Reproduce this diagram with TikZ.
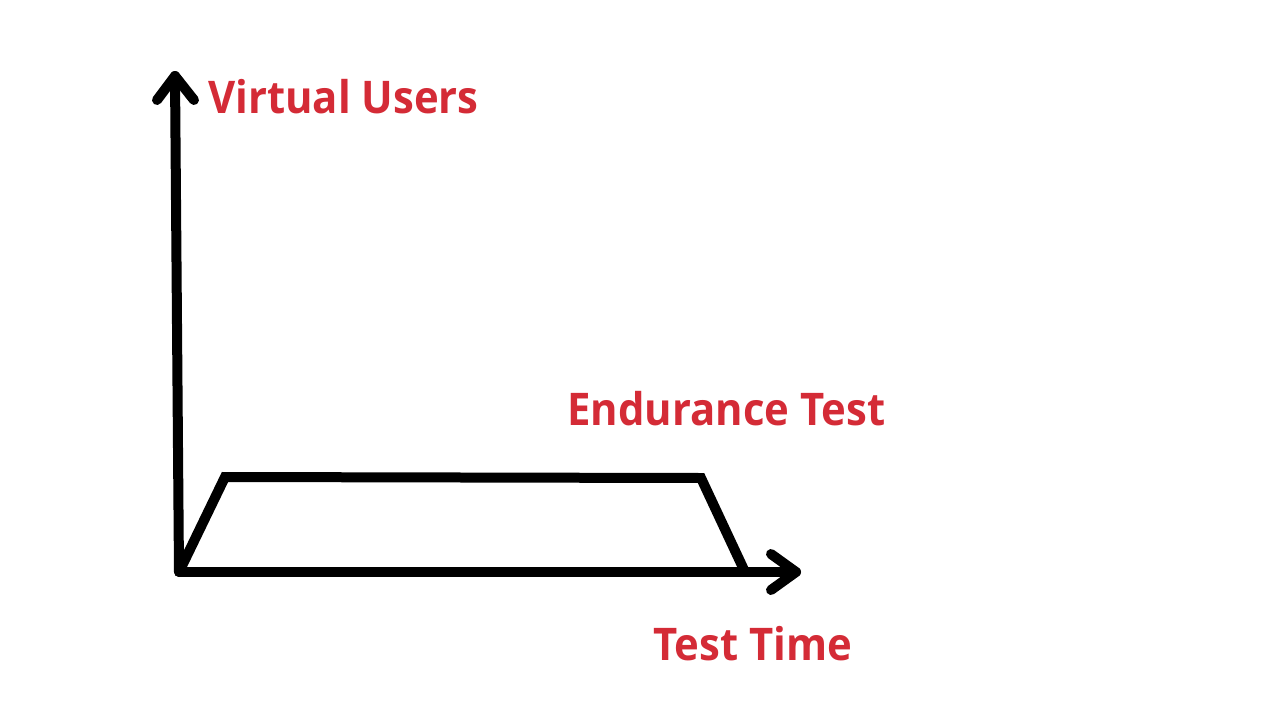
\documentclass[tikz,border=0pt]{standalone}
\usepackage{fontspec}
\setmainfont{Open Sans}
\newfontfamily\lblfont[FakeStretch=0.93]{Open Sans}
\definecolor{lblred}{HTML}{D42B36}
\tikzset{
  axisline/.style={line width=10pt, line cap=round, line join=round, black},
  curveline/.style={line width=10pt, line cap=butt, line join=miter, black},
  lbl/.style={text=lblred, font=\lblfont\fontsize{45}{50}\selectfont\bfseries, anchor=base west, inner sep=0pt},
}
\begin{document}
\begin{tikzpicture}[x=1pt,y=-1pt]
\useasboundingbox (0,0) rectangle (1280,720);
\coordinate (O) at (179,572);
\coordinate (ytop) at (175,76);
\coordinate (xend) at (796,572);
\coordinate (ya) at (157,100);
\coordinate (yb) at (194,100);
\coordinate (xa) at (771,554);
\coordinate (xb) at (771,590);
\coordinate (p0) at (180,570);
\coordinate (p1) at (225,477);
\coordinate (p2) at (701,478);
\coordinate (p3) at (745,572);
% trapezoid
\draw[curveline] (p0) -- (p1) -- (p2) -- (p3);
% axes
\draw[axisline] (O) -- (ytop);
\draw[axisline] (ya) -- (ytop) -- (yb);
\draw[axisline] (O) -- (xend);
\draw[axisline] (xa) -- (xend) -- (xb);
% labels
\node[lbl] (vu) at (208,113) {Virtual Users};
\node[lbl] (et) at (567,425) {Endurance Test};
\node[lbl] (tt) at (653,660) {Test Time};
\end{tikzpicture}
\end{document}
